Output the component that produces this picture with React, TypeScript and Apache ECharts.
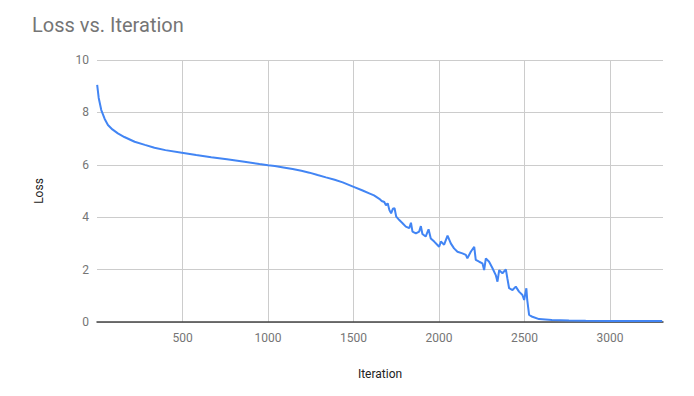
import React, { useEffect, useRef } from "react";
import * as echarts from "echarts";

const iterations = [
  1, 10, 25, 45, 64, 90, 122, 160, 220, 280, 336, 400, 496, 580, 668, 760, 862, 950, 1000, 1040,
  1090, 1144, 1195, 1242, 1290, 1339, 1390, 1437, 1501, 1550, 1592, 1620, 1651, 1665, 1680, 1690, 1700, 1710, 1720, 1730,
  1740, 1750, 1768, 1787, 1806, 1826, 1836, 1845, 1865, 1884, 1894, 1903, 1922, 1939, 1952, 1972,
  1991, 2001, 2011, 2030, 2050, 2069, 2088, 2108, 2137, 2157, 2166, 2186, 2206, 2215, 2235, 2254,
  2264, 2274, 2293, 2313, 2332, 2342, 2352, 2371, 2391, 2400, 2410, 2430, 2449, 2468, 2488, 2498,
  2511, 2516, 2527, 2546, 2585, 2660, 2760, 2858, 3000, 3150, 3305,
];
const loss = [
  9.05, 8.55, 8.09, 7.75, 7.52, 7.35, 7.2, 7.06, 6.88, 6.76, 6.65, 6.56, 6.46, 6.37, 6.29, 6.21, 6.12, 6.03, 5.98, 5.95,
  5.9, 5.84, 5.77, 5.7, 5.61, 5.52, 5.43, 5.33, 5.16, 5.03, 4.91, 4.83, 4.7, 4.62, 4.58, 4.45, 4.53, 4.27, 4.15, 4.32,
  4.34, 4.02, 3.89, 3.77, 3.64, 3.58, 3.79, 3.45, 3.38, 3.45, 3.66, 3.36, 3.26, 3.54, 3.19, 3.07,
  2.94, 2.87, 3.07, 2.95, 3.3, 3.0, 2.81, 2.68, 2.62, 2.56, 2.43, 2.68, 2.87, 2.37, 2.3, 2.24,
  1.98, 2.43, 2.3, 2.05, 1.79, 1.54, 1.98, 1.86, 2.01, 1.66, 1.29, 1.22, 1.35, 1.16, 1.03, 0.84,
  1.29, 0.84, 0.27, 0.2, 0.11, 0.08, 0.06, 0.05, 0.04, 0.035, 0.035,
];
const xTicks = [500, 1000, 1500, 2000, 2500, 3000];

export default function App() {
  const ref = useRef<HTMLDivElement>(null);
  useEffect(() => {
    const chart = echarts.init(ref.current!, null, { renderer: "svg" });
    const font = "Roboto, Arial, sans-serif";
    chart.setOption({
      animation: false,
      textStyle: { fontFamily: font },
      title: {
        text: "Loss vs. Iteration",
        left: 27,
        top: 10,
        textStyle: { fontFamily: font, fontSize: 20, fontWeight: "normal", color: "#757575" },
      },
      grid: { left: 97, right: 31, top: 60, bottom: 74 },
      xAxis: {
        type: "value",
        min: 0,
        max: 3310,
        interval: 500,
        name: "Iteration",
        nameLocation: "middle",
        nameGap: 46,
        nameTextStyle: { fontFamily: font, fontSize: 12, color: "#222" },
        axisLine: { show: true, lineStyle: { color: "#444", width: 1.5 } },
        axisTick: { show: false },
        axisLabel: {
          color: "#757575",
          fontSize: 12,
          fontFamily: font,
          margin: 10,
          formatter: (v: number) => (xTicks.includes(v) ? String(v) : ""),
        },
        splitLine: { show: true, showMinLine: false, showMaxLine: false, lineStyle: { color: "#cccccc" } },
      },
      yAxis: {
        type: "value",
        min: 0,
        max: 10,
        interval: 2,
        name: "Loss",
        nameLocation: "middle",
        nameGap: 52,
        nameRotate: 90,
        nameTextStyle: { fontFamily: font, fontSize: 12, color: "#222" },
        axisLine: { show: false },
        axisTick: { show: false },
        axisLabel: { color: "#757575", fontSize: 12, fontFamily: font, margin: 8 },
        splitLine: { show: true, lineStyle: { color: "#cccccc" } },
      },
      series: [
        {
          type: "line",
          data: iterations.map((it, i) => [it, loss[i]]),
          showSymbol: false,
          symbol: "none",
          lineStyle: { color: "#4285F4", width: 2 },
          itemStyle: { color: "#4285F4" },
        },
      ],
    });
    return () => chart.dispose();
  }, []);
  return (
    <div
      ref={ref}
      style={{ position: "absolute", left: 0, top: 0, width: 694, height: 396, background: "#fff" }}
    />
  );
}
